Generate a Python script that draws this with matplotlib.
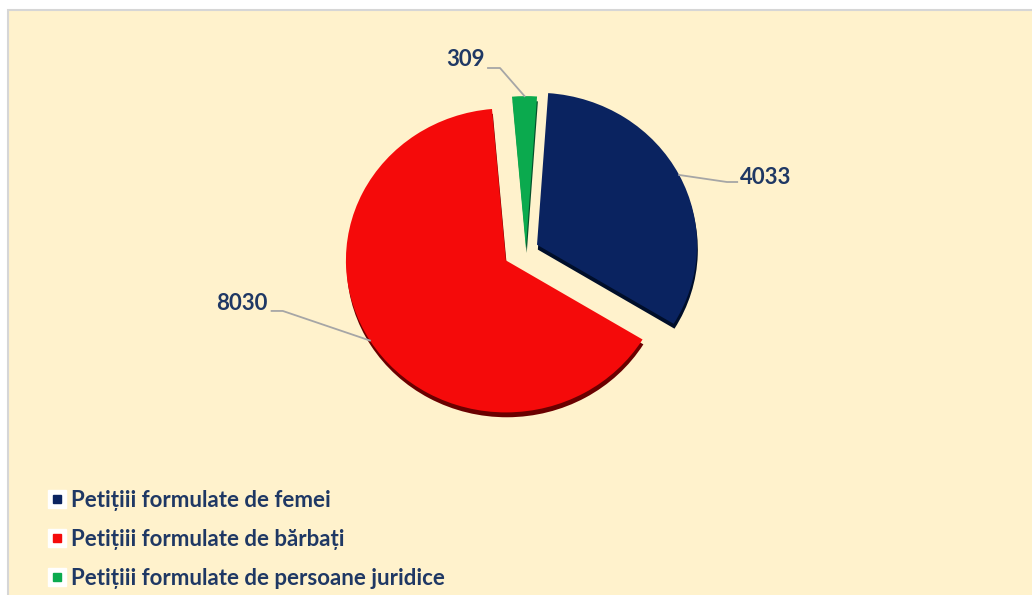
import matplotlib
matplotlib.use("Agg")
import matplotlib.pyplot as plt
import matplotlib.patches as mpatches
import matplotlib.patheffects as pe
from matplotlib.lines import Line2D
import numpy as np

plt.rcParams["font.family"] = ["Lato", "DejaVu Sans"]

# data
categories = ["Petițiii formulate de femei",
              "Petițiii formulate de bărbați",
              "Petițiii formulate de persoane juridice"]
values = [4033, 8030, 309]
colors = ["#0A2360", "#F50A0A", "#0BAA4E"]
side_colors = ["#000E2A", "#6A0000", "#04502A"]
explode = [0.19, 0.03, 0.065]

TEXT = "#1F3864"
BG = "#FFF2CC"

W, H = 1032, 595
fig = plt.figure(figsize=(W / 100, H / 100), dpi=100)
fig.patch.set_facecolor("white")

# chart area (cream box with grey border, cut at right/bottom)
fig.patches.append(mpatches.Rectangle((8 / W, -0.05), 1.1, 1 - 10 / H + 0.05,
                                      transform=fig.transFigure, facecolor=BG,
                                      edgecolor="#D6D6D6", linewidth=1.5, zorder=-10))

# pie axes: 400x400 px box centred on the pie, slightly squashed vertically (3D tilt)
cx, cy, side = 510, 258, 400
tilt = 0.95
ax = fig.add_axes([(cx - side / 2) / W, (H - cy - side / 2) / H, side / W, side / H])
ax.axis("off")

wedges, _ = ax.pie(values, colors=colors, explode=explode, startangle=86,
                   counterclock=False, radius=1.0,
                   wedgeprops=dict(linewidth=0))
ax.set_aspect("auto")
ax.set_xlim(-1.25, 1.25)
ax.set_ylim(-1.25 / tilt, 1.25 / tilt)
# small sideways nudge of the thin slice, as in the original rendering
wedges[2].set_center((wedges[2].center[0] + 0.1, wedges[2].center[1]))
for w, sc in zip(wedges, side_colors):
    w.set_path_effects([pe.SimplePatchShadow(offset=(0.6, -3.5), shadow_rgbFace=sc, alpha=1.0),
                        pe.Normal()])
    w.set_clip_on(False)

# data labels with leader lines: (elbow, line end, text pos, ha) in screen-like units
label_layout = [
    ((1.356, 0.45), (1.42, 0.45), (1.44, 0.475), "left"),
    ((-1.42, -0.356), (-1.49, -0.356), (-1.515, -0.31), "right"),
    ((-0.0625, 1.1625), (-0.1375, 1.1625), (-0.16, 1.215), "right"),
]
sh = 4 / 160  # axes centre moved down by 4 px
for w, v, (elbow, end, tpos, ha) in zip(wedges, values, label_layout):
    mid = np.deg2rad((w.theta1 + w.theta2) / 2)
    x0 = w.center[0] + w.r * np.cos(mid)
    y0 = w.center[1] + w.r * np.sin(mid)
    ax.plot([x0, elbow[0], end[0]],
            [y0, (elbow[1] + sh) / tilt, (end[1] + sh) / tilt],
            color="#A6A6A6", linewidth=1.3, clip_on=False, zorder=1)
    ax.text(tpos[0], (tpos[1] + sh) / tilt, f"{v}", ha=ha, va="center", fontsize=16,
            fontweight="bold", color=TEXT, clip_on=False)

# legend: white square behind a small coloured square
handles = [(Line2D([], [], marker="s", ms=12.5, color="white", ls=""),
            Line2D([], [], marker="s", ms=6, color=c, ls="")) for c in colors]
leg = fig.legend(handles, categories, loc="upper left",
                 bbox_to_anchor=(28 / W, 1 - 470 / H), frameon=False,
                 handlelength=0.8, handletextpad=0.25, labelspacing=0.8,
                 prop=dict(size=16, weight="bold"))
for t in leg.get_texts():
    t.set_color(TEXT)

fig.savefig("out.png", dpi=100, facecolor=fig.get_facecolor())
